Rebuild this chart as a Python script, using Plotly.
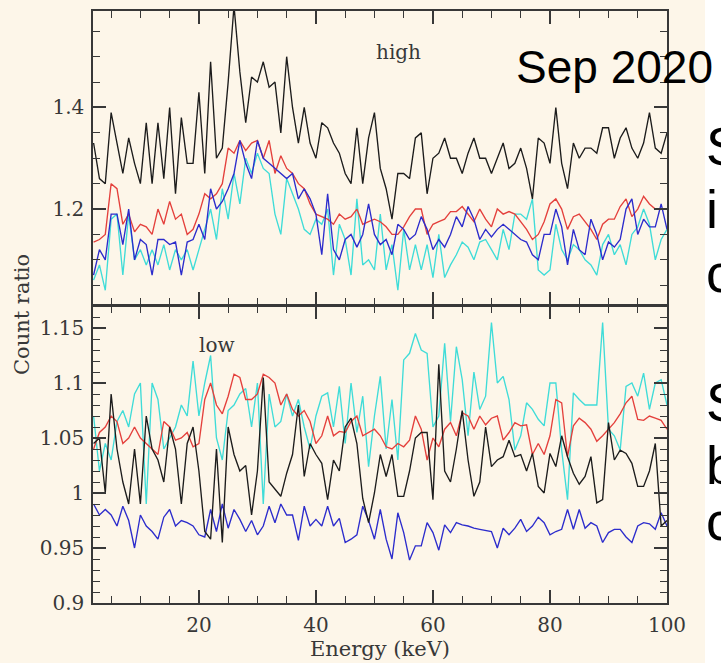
import plotly.graph_objects as go

# Energy grid (keV) shared by all ratio curves
energy = list(range(2, 101))

# "high" panel count ratios
high_black = [1.33, 1.26, 1.25, 1.39, 1.33, 1.27, 1.34, 1.29, 1.25,
              1.37, 1.25, 1.37, 1.26, 1.40, 1.23, 1.38, 1.29, 1.29, 1.43,
              1.27, 1.49, 1.30, 1.32, 1.45, 1.60, 1.47, 1.37, 1.46, 1.45,
              1.49, 1.44, 1.45, 1.35, 1.50, 1.40, 1.33, 1.40, 1.33, 1.30,
              1.37, 1.36, 1.33, 1.31, 1.27, 1.25, 1.36, 1.25, 1.34, 1.39,
              1.28, 1.24, 1.18, 1.27, 1.27, 1.26, 1.34, 1.35, 1.23, 1.30,
              1.31, 1.34, 1.30, 1.30, 1.27, 1.31, 1.34, 1.30, 1.30, 1.27,
              1.30, 1.33, 1.28, 1.29, 1.32, 1.28, 1.22, 1.34, 1.33, 1.29,
              1.40, 1.29, 1.24, 1.33, 1.30, 1.32, 1.32, 1.31, 1.36, 1.36,
              1.30, 1.34, 1.36, 1.32, 1.30, 1.33, 1.39, 1.32, 1.31, 1.35]
high_red = [1.135, 1.14, 1.15, 1.25, 1.24, 1.17, 1.19, 1.155, 1.17,
            1.165, 1.15, 1.20, 1.17, 1.215, 1.18, 1.19, 1.15, 1.16, 1.19,
            1.23, 1.22, 1.23, 1.25, 1.32, 1.31, 1.335, 1.315, 1.33, 1.335,
            1.30, 1.335, 1.27, 1.305, 1.28, 1.27, 1.25, 1.24, 1.21, 1.19,
            1.185, 1.18, 1.17, 1.19, 1.18, 1.185, 1.20, 1.17, 1.175, 1.18,
            1.175, 1.165, 1.15, 1.15, 1.165, 1.185, 1.20, 1.20, 1.15, 1.17,
            1.175, 1.18, 1.195, 1.195, 1.205, 1.19, 1.175, 1.20, 1.18, 1.165,
            1.20, 1.19, 1.195, 1.19, 1.175, 1.16, 1.14, 1.15, 1.175, 1.21,
            1.22, 1.20, 1.16, 1.185, 1.19, 1.175, 1.16, 1.14, 1.17, 1.18,
            1.18, 1.205, 1.22, 1.185, 1.20, 1.225, 1.21, 1.20, 1.20, 1.20]
high_blue = [1.07, 1.12, 1.10, 1.19, 1.19, 1.13, 1.20, 1.10, 1.14,
             1.13, 1.07, 1.14, 1.14, 1.13, 1.135, 1.07, 1.135, 1.14, 1.17,
             1.14, 1.24, 1.20, 1.215, 1.24, 1.27, 1.335, 1.29, 1.26, 1.335,
             1.30, 1.29, 1.28, 1.27, 1.26, 1.27, 1.22, 1.24, 1.22, 1.19,
             1.11, 1.23, 1.12, 1.10, 1.14, 1.15, 1.125, 1.15, 1.21, 1.15,
             1.13, 1.14, 1.11, 1.17, 1.16, 1.14, 1.15, 1.185, 1.16, 1.12,
             1.14, 1.125, 1.15, 1.185, 1.165, 1.205, 1.18, 1.14, 1.16, 1.145,
             1.16, 1.17, 1.16, 1.15, 1.14, 1.135, 1.11, 1.10, 1.15, 1.15,
             1.20, 1.165, 1.09, 1.16, 1.12, 1.11, 1.18, 1.15, 1.10, 1.135,
             1.125, 1.14, 1.20, 1.22, 1.15, 1.18, 1.165, 1.165, 1.21, 1.16]
high_cyan = [1.06, 1.09, 1.04, 1.18, 1.19, 1.07, 1.19, 1.10, 1.12,
             1.09, 1.12, 1.09, 1.13, 1.08, 1.12, 1.10, 1.12, 1.08, 1.12,
             1.16, 1.20, 1.14, 1.24, 1.18, 1.27, 1.21, 1.30, 1.27, 1.31,
             1.28, 1.27, 1.19, 1.15, 1.26, 1.23, 1.20, 1.16, 1.15, 1.18,
             1.17, 1.20, 1.07, 1.17, 1.14, 1.07, 1.22, 1.09, 1.10, 1.08,
             1.19, 1.08, 1.13, 1.04, 1.16, 1.08, 1.13, 1.08, 1.13, 1.065,
             1.15, 1.065, 1.09, 1.11, 1.135, 1.125, 1.10, 1.135, 1.14, 1.12,
             1.10, 1.16, 1.12, 1.19, 1.19, 1.18, 1.22, 1.08, 1.07, 1.08,
             1.17, 1.12, 1.10, 1.13, 1.12, 1.10, 1.09, 1.07, 1.13, 1.15,
             1.11, 1.13, 1.09, 1.15, 1.165, 1.20, 1.17, 1.10, 1.14, 1.16]

# "low" panel count ratios
low_black = [1.045, 1.05, 1.00, 1.09, 1.04, 1.01, 0.99, 1.04, 0.99,
             1.07, 1.04, 1.03, 1.01, 1.06, 1.04, 0.99, 1.045, 1.06, 1.02,
             0.965, 0.958, 1.04, 0.955, 1.06, 1.035, 1.02, 1.025, 0.98, 1.02,
             1.105, 1.01, 1.003, 0.997, 1.018, 1.035, 1.08, 1.015, 1.045, 1.035,
             1.027, 0.994, 1.03, 1.02, 1.06, 1.068, 1.045, 0.995, 0.973, 1.00,
             1.035, 1.015, 1.035, 0.997, 0.997, 1.02, 1.05, 1.055, 1.055, 0.994,
             1.117, 1.02, 1.01, 1.04, 1.075, 1.03, 0.997, 1.01, 1.06, 1.024,
             1.03, 1.033, 1.048, 1.033, 1.035, 1.02, 1.036, 1.006, 1.0, 1.036,
             1.024, 1.052, 1.033, 1.018, 1.008, 1.015, 1.033, 0.991, 0.994, 1.064,
             1.03, 1.039, 1.036, 1.027, 1.006, 1.006, 1.02, 1.045, 0.97, 0.975]
low_red = [1.04, 1.055, 1.06, 1.07, 1.065, 1.045, 1.05, 1.06, 1.05,
           1.045, 1.04, 1.035, 1.065, 1.06, 1.048, 1.05, 1.055, 1.042, 1.045,
           1.085, 1.10, 1.08, 1.072, 1.088, 1.108, 1.105, 1.085, 1.085, 1.09,
           1.108, 1.105, 1.10, 1.08, 1.09, 1.076, 1.07, 1.075, 1.065, 1.045,
           1.052, 1.07, 1.052, 1.056, 1.055, 1.065, 1.07, 1.052, 1.055, 1.058,
           1.052, 1.042, 1.04, 1.045, 1.042, 1.048, 1.07, 1.058, 1.03, 1.05,
           1.042, 1.058, 1.064, 1.052, 1.073, 1.07, 1.058, 1.07, 1.062, 1.068,
           1.07, 1.048, 1.055, 1.064, 1.061, 1.062, 1.035, 1.045, 1.035, 1.052,
           1.085, 1.082, 1.033, 1.061, 1.068, 1.064, 1.058, 1.047, 1.052, 1.058,
           1.064, 1.072, 1.082, 1.088, 1.067, 1.066, 1.07, 1.068, 1.066, 1.058]
low_blue = [0.99, 0.98, 0.985, 0.98, 0.97, 0.988, 0.975, 0.95, 0.98,
            0.97, 0.965, 0.958, 0.978, 0.985, 0.97, 0.975, 0.973, 0.97, 0.962,
            0.96, 0.985, 0.965, 0.99, 0.968, 0.985, 0.976, 0.965, 0.975, 0.962,
            0.97, 0.988, 0.973, 0.99, 0.98, 0.98, 0.957, 0.988, 0.97, 0.976,
            0.97, 0.988, 0.97, 0.977, 0.955, 0.958, 0.962, 0.988, 0.975, 0.958,
            0.985, 0.958, 0.94, 0.982, 0.964, 0.939, 0.952, 0.952, 0.973, 0.964,
            0.948, 0.971, 0.964, 0.973, 0.971, 0.97, 0.968, 0.967, 0.966, 0.965,
            0.95, 0.968, 0.962, 0.968, 0.976, 0.965, 0.97, 0.978, 0.973, 0.962,
            0.965, 0.967, 0.985, 0.967, 0.985, 0.968, 0.973, 0.97, 0.955, 0.964,
            0.967, 0.967, 0.96, 0.955, 0.97, 0.973, 0.972, 0.967, 0.982, 0.97]
low_cyan = [1.07, 1.02, 1.045, 1.03, 1.065, 1.075, 1.06, 1.09, 1.10,
            0.99, 1.10, 1.085, 1.04, 1.05, 1.06, 1.08, 1.07, 1.12, 1.07,
            1.10, 1.125, 1.05, 1.03, 1.075, 1.08, 1.09, 1.095, 1.06, 1.10,
            0.99, 1.09, 1.06, 1.065, 1.09, 1.07, 1.085, 1.06, 1.04, 1.07,
            1.088, 1.091, 1.06, 1.097, 1.045, 1.10, 1.055, 1.088, 1.024, 1.07,
            1.106, 1.04, 1.085, 1.03, 1.121, 1.127, 1.145, 1.13, 1.127, 1.06,
            1.07, 1.136, 1.065, 1.133, 1.103, 1.052, 1.11, 1.076, 1.088, 1.155,
            1.10, 1.106, 1.085, 1.039, 1.052, 1.082, 1.076, 1.067, 1.061, 1.10,
            1.10, 1.039, 0.994, 1.091, 1.085, 1.08, 1.08, 1.08, 1.155, 1.058,
            1.052, 1.039, 1.097, 1.10, 1.088, 1.109, 1.076, 1.10, 1.103, 1.08]

# Tick labels
x_ticks = [20, 40, 60, 80, 100]
x_ticktext = ["20", "40", "60", "80", "100"]
high_ticks = [1.2, 1.4]
high_ticktext = ["1.2", "1.4"]
low_ticks = [0.9, 0.95, 1.0, 1.05, 1.1, 1.15]
low_ticktext = ["0.9", "0.95", "1", "1.05", "1.1", "1.15"]

# Page geometry (pixels)
W, H = 721, 663
L, R, T, B = 93, 667, 11, 603
MID = 306


def fx(px):
    return (px - L) / (R - L)


def fy(py):
    return (B - py) / (B - T)


CREAM = "#fdf6e9"
INK = "#383838"
SERIF = "DejaVu Serif"
SANS = "Liberation Sans, Arial, sans-serif"

colors = {"cyan": "#3fdcd8", "red": "#e4403c", "blue": "#2c2ccc", "black": "#1c1c1c"}

fig = go.Figure()

panels = [
    ("x2", "y2", {"cyan": high_cyan, "red": high_red, "blue": high_blue, "black": high_black}),
    ("x", "y", {"cyan": low_cyan, "red": low_red, "blue": low_blue, "black": low_black}),
]
for xa, ya, series in panels:
    for name in ["cyan", "red", "blue", "black"]:
        fig.add_trace(go.Scatter(
            x=energy, y=series[name], mode="lines", xaxis=xa, yaxis=ya,
            line=dict(color=colors[name], width=1.35), showlegend=False,
            hoverinfo="skip",
        ))

axis_common = dict(
    showline=True, linecolor=INK, linewidth=1.5, mirror="ticks",
    ticks="inside", tickcolor=INK, tickwidth=1.5, ticklen=13,
    showgrid=False, zeroline=False, automargin=False,
    tickfont=dict(family=SERIF, size=20, color=INK),
)


def minor(dtick, tick0):
    return dict(ticks="inside", ticklen=7, tickwidth=1.3, tickcolor=INK,
                tick0=tick0, dtick=dtick, showgrid=False)


split = fy(MID)
# axis lines sit just outside each panel, so the upper panel starts one
# line-width higher to make both panels share a single divider
overlap = 1.5 / (B - T)

fig.update_layout(
    width=W, height=H, autosize=False,
    margin=dict(l=L, r=W - R, t=T, b=H - B, pad=0, autoexpand=False),
    paper_bgcolor="white",
    plot_bgcolor="rgba(0,0,0,0)",
    xaxis=dict(
        axis_common, domain=[0, 1], anchor="y", range=[1.9, 100],
        tickvals=x_ticks, ticktext=x_ticktext, ticklabelstandoff=3,
        minor=minor(5, 0),
    ),
    yaxis=dict(
        axis_common, domain=[0, split], anchor="x", range=[0.9, 1.17],
        tickvals=low_ticks, ticktext=low_ticktext, ticklabelstandoff=3,
        minor=minor(0.01, 0.9),
    ),
    xaxis2=dict(
        axis_common, domain=[0, 1], anchor="y2", range=[1.9, 100],
        matches="x", tickvals=x_ticks, showticklabels=False,
        minor=minor(5, 0),
    ),
    yaxis2=dict(
        axis_common, domain=[split + overlap, 1], anchor="x2", range=[1.012, 1.59],
        tickvals=high_ticks, ticktext=high_ticktext, ticklabelstandoff=3,
        minor=minor(0.05, 1.0),
    ),
    shapes=[
        dict(type="rect", xref="paper", yref="paper", layer="below",
             x0=fx(0), x1=fx(705), y0=fy(H), y1=fy(0),
             fillcolor=CREAM, line=dict(width=0)),
    ],
)

annotations = [
    dict(text="Energy (keV)", x=fx(380), y=fy(649),
         font=dict(family=SERIF, size=21, color=INK)),
    dict(text="Count ratio", x=fx(22), y=fy(315), textangle=-90,
         font=dict(family=SERIF, size=21, color=INK)),
    dict(text="high", x=fx(398), y=fy(52), font=dict(family=SERIF, size=20, color=INK)),
    dict(text="low", x=fx(217), y=fy(345), font=dict(family=SERIF, size=20, color=INK)),
    dict(text="Sep 2020", x=fx(514), y=fy(67), xanchor="left",
         font=dict(family=SANS, size=46, color="black")),
]
# Slide text running off the right edge
for txt, base in [("S", 165), ("in", 228), ("c", 292), ("S", 421), ("b", 484), ("c", 540)]:
    annotations.append(dict(text=txt, x=fx(704), y=fy(base - 19), xanchor="left",
                            font=dict(family=SANS, size=54, color="black")))

for a in annotations:
    a.setdefault("xref", "paper")
    a.setdefault("yref", "paper")
    a.setdefault("showarrow", False)
    a.setdefault("yanchor", "middle")
    a.setdefault("xanchor", "center")
fig.update_layout(annotations=annotations)

fig.write_html("out.html")
